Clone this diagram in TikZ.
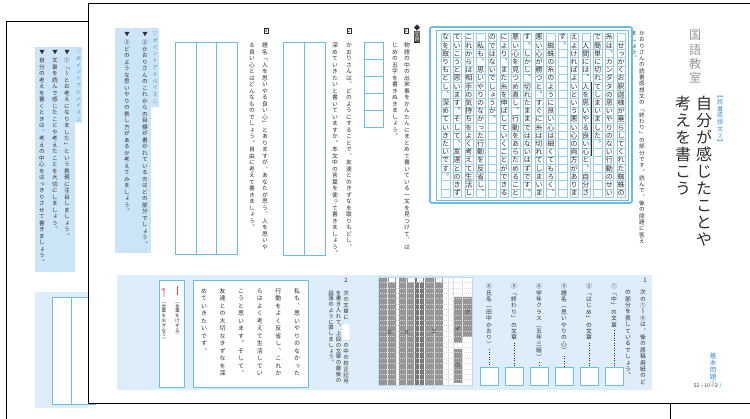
\documentclass[tikz,border=0pt]{standalone}
\usepackage{fontspec}
\usepackage{xcolor}
\usepackage{tikz}

\newfontfamily\jp[RawFeature=+vert]{Noto Sans CJK JP}
\newfontfamily\jph{Noto Sans CJK JP}

\definecolor{kblue}{RGB}{104,190,228}
\definecolor{kpanel}{RGB}{221,238,250}
\definecolor{kadv}{RGB}{203,229,247}
\definecolor{kgrid}{RGB}{150,205,232}
\definecolor{ktab}{RGB}{55,140,205}
\definecolor{ktext}{RGB}{45,45,45}
\definecolor{kgray}{RGB}{150,150,150}

% one column of vertical text, #1 = pitch
\newcommand\vcol[2][1em]{\vbox{\offinterlineskip\def\vpch{#1}\expandafter\vcolaux#2\relax}}
\def\vcolaux#1{\ifx\relax#1\else\vbox to \vpch{\vss\hbox to 1em{\hss\vrule height .88em depth .12em width 0pt\relax#1\hss}\vss}\expandafter\vcolaux\fi}

\begin{document}
\begin{tikzpicture}[x=1pt,y=-1pt,
  vt/.style={inner sep=0pt,anchor=north,text=ktext,font=\jp\fontsize{#1}{#1}\selectfont},
  page/.style={draw=black,line width=1pt,fill=white},
  ansbox/.style={draw=kblue,line width=0.7pt,fill=white},
  cell/.style={draw=kgrid,line width=0.3pt},
  numbox/.style={draw=ktext,line width=0.4pt,inner sep=0.7pt,anchor=north,text=ktext,font=\jph\fontsize{5.5}{5.5}\selectfont}]

\useasboundingbox (0,0) rectangle (750,419);
\fill[white] (0,0) rectangle (750,419);

\pgfmathsetmacro{\PX}{621}   % right column of the grid
\pgfmathsetmacro{\PW}{11.7}
\pgfmathsetmacro{\PH}{8.2}
\pgfmathsetmacro{\PY}{33}

% back page
\draw[page] (6,22) rectangle (670,440);
\fill[kadv] (35,47) rectangle (75,272);
\fill[kadv] (75,47) rectangle (82,123);
\draw (78.5,48) node (btab) [vt=5,text=ktab] {\vcol[6.8pt]{▽ポイントアドバイス△}};
\foreach \x/\itm [count=\i] in {67/①「〜とお考えになりました」という表現に注目しましょう。,
    55/文章を読んで感じたことや考えたことを大切にしましょう。,
    42/自分の考えを書くときは、考えの中心をはっきりさせて書きましょう。}
{
  \draw (\x,49) node (bmark\i) [vt=5.5] {\vcol[6.6pt]{▼}};
  \draw (\x,57) node (badv\i) [vt=5.6] {\vcol[6.5pt]{\itm}};
}
\fill[kpanel] (35,292) rectangle (88,408);
\draw[ansbox] (52,297) rectangle (95,404);
\draw[kblue,line width=0.5pt] (71,297) -- (71,404);

% front page
\draw[page] (88,4) rectangle (760,404);

% title
\draw (695,28) node (kokugo) [vt=12,text=kgray] {\vcol[14.2pt]{国語教室}};
\draw (720,92) node (tag) [vt=6,text=ktab] {\vcol[6.7pt]{【読書感想文②】}};
\draw (704,95) node (title1) [vt=16] {\vcol[17pt]{自分が感じたことや}};
\draw (683,95) node (title2) [vt=16] {\vcol[17pt]{考えを書こう}};
\draw (642,30) node (lead1) [vt=5.6] {\vcol[6.3pt]{かおりさんの読書感想文の「終わり」の部分です。読んで、後の問題に答え}};
\draw (634,30) node (lead2) [vt=5.6] {\vcol[6.3pt]{ましょう。}};

% reading box
\draw[kblue,line width=1.8pt,rounded corners=2pt] (430,27) rectangle (632,203);
\draw[kblue,line width=0.4pt] (436,30) rectangle (628,200);
\foreach \i in {0,...,15}{
  \draw[cell] ({\PX-\PW*\i-4.2},\PY) rectangle ({\PX-\PW*\i+4.2},{\PY+20*\PH});
  \foreach \j in {1,...,19} \draw[cell] ({\PX-\PW*\i-4.2},{\PY+\PH*\j}) -- ++(8.4,0);
}
\foreach \itm [count=\i from 0] in {　せっかくお釈迦様が垂らしてくれた蜘蛛の,
    糸は、カンダタの思いやりのない行動のせい,
    で簡単に切れてしまいました。,
    　人間には、人を思いやる良い心と、自分さ,
    えよければよいという悪い心の両方がありま,
    す。,
    　蜘蛛の糸のように良い心は細くてもろく、,
    悪い心が勝つと、すぐに糸は切れてしまいま,
    す。しかし、切れたままではないはずです。,
    悪い心を見つめ直し、行動をあらためること,
    により、また糸を伸ばしていくことができる,
    のではないでしょうか。,
    　私も、思いやりのなかった行動を反省し、,
    これからは相手の気持ちをよく考えて生活し,
    ていこうと思います。そして、友達とのきず,
    なを取りもどし、深めていきたいです。}
  \draw ({\PX-\PW*\i},\PY) node (row\i) [vt=7] {\vcol[8.2pt]{\itm}};
\draw[ktext,line width=0.6pt] ({\PX-\PW*3+5.6},{\PY+6*\PH}) -- ({\PX-\PW*3+5.6},{\PY+15*\PH});

% questions
\draw (417,25) node (diam) [vt=6.5] {\vcol[6pt]{◆}};
\draw (417,31) node (mondai) [vt=5.5,fill=ktext,text=white] {\vcol[5.8pt]{問題}};

\draw (406,28) node (n1) [numbox] {1};
\draw (407,42) node (q1a) [vt=5.8] {\vcol[6.5pt]{物語の中の出来事をかんたんにまとめて書いている一文を見つけて、は}};
\draw (395,42) node (q1b) [vt=5.8] {\vcol[6.5pt]{じめの五字を書きぬきましょう。}};
\foreach \j in {0,...,4} \draw[ansbox] (364,{42+17*\j}) rectangle ++(19,17);

\draw (349,28) node (n2) [numbox] {2};
\draw (349,42) node (q2a) [vt=5.8] {\vcol[6.5pt]{かおりさんは、どのようにすることで、友達とのきずなを取りもどし、}};
\draw (335,42) node (q2b) [vt=5.8] {\vcol[6.5pt]{深めていきたいと書いていますか。本文中の言葉を使って書きましょう。}};
\draw[ansbox] (283,42) rectangle (325,255);
\draw[kblue,line width=0.5pt] (304,42) -- (304,255);

\draw (266,28) node (n3) [numbox] {3};
\draw (265,42) node (q3a) [vt=5.8] {\vcol[6.5pt]{題名「人を思いやる良い心」とありますが、あなたが思う、人を思いや}};
\draw (252,42) node (q3b) [vt=5.8] {\vcol[6.5pt]{る良い心とはどんなものでしょう。自由に考えて書きましょう。}};
\draw[ansbox] (175,42) rectangle (237,254);
\draw[kblue,line width=0.5pt] (196,42) -- (196,254) (216,42) -- (216,254);

% point advice
\fill[kadv] (115,28) rectangle (151,253);
\fill[kadv] (151,28) rectangle (159,107);
\draw (155,30) node (ftab) [vt=5,text=ktab] {\vcol[6.8pt]{▽ポイントアドバイス△}};
\foreach \x/\itm [count=\i] in {145/②かおりさんのこれからの目標が書かれているのはどの部分でしょう。,
    127/③どのような思いやりの表し方があるか考えてみましょう。}
{
  \draw (\x,31) node (fmark\i) [vt=5.5] {\vcol[6.6pt]{▼}};
  \draw (\x,39) node (fadv\i) [vt=5.6] {\vcol[6.5pt]{\itm}};
}

% bottom panel
\fill[kpanel] (117,275) rectangle (652,390);
\draw (645,278) node (b1) [vt=6,font=\jph\fontsize{6}{6}\selectfont] {1};
\draw (643,289) node (b1a) [vt=5.8] {\vcol[6.4pt]{次の①〜⑥は、後の原稿用紙のど}};
\draw (628,289) node (b1b) [vt=5.8] {\vcol[6.4pt]{の部分を表しているでしょう。}};
\foreach \itm [count=\i from 0] in {①「中」の文章,②「はじめ」の文章,③題名（思いやりの心）,
    ④学年クラス（五年三組）,⑤「終わり」の文章,⑥氏名（田中かおり）}
{
  \draw ({614-25*\i},283) node (it\i) [vt=5.8] {\vcol[6.4pt]{\itm}};
  \draw ({614-25*\i},376) node (ab\i) [ansbox,minimum size=18pt,inner sep=0pt] {};
  \draw[ktext,dotted,line width=0.5pt] ([yshift=-2pt]it\i.south) -- (ab\i.north);
}

% manuscript grid
\fill[white] (378,277) rectangle (472,385);
\fill[kgray] (378,277) rectangle (396,385) (399,277) rectangle (414,385)
  (425,277) rectangle (443,385) (453,297) rectangle (462,343)
  (453,349) rectangle (462,383) (463,297) rectangle (472,337);
\fill[kgray!80!black] (415,277) rectangle (424,385);
\fill[white] (389,277) rectangle (395,282) (408,277) rectangle (414,282)
  (417,277) rectangle (423,282) (436,277) rectangle (442,282);
\foreach \j in {1,...,19} \draw[white!70!gray,line width=0.3pt,dash pattern=on 1pt off 1pt] (378,{277+5.4*\j}) -- (472,{277+5.4*\j});
\foreach \x in {387,406,419.5,434,448,453,462.5} \draw[white!75!gray,line width=0.3pt] (\x,277) -- (\x,385);
\draw[kblue!50,line width=0.4pt] (378,277) rectangle (472,385);
\foreach \x/\y/\k [count=\i] in {389/332/カ,406.5/332/オ,434/332/エ,467.5/313/ア,457.5/329/イ,457.5/365/ウ}
  \draw (\x,\y) node (lab\i) [font=\jp\fontsize{5.5}{5.5}\selectfont,inner sep=0pt,text=ktext] {\k};

% question 2
\draw (346,278) node (b2) [vt=6,font=\jph\fontsize{6}{6}\selectfont] {2};
\draw (346,290) node (b2a) [vt=5.5] {\vcol[6pt]{次の文章に}};
\draw (346,332) node (blank) [fill=white,draw=kblue!60,line width=0.4pt,rounded corners=1pt,minimum width=8pt,minimum height=17pt,inner sep=0pt] {};
\draw (346,342) node (b2b) [vt=5.5] {\vcol[6pt]{の中の校正記号}};
\draw (338.5,290) node (b2c) [vt=5.5] {\vcol[5.8pt]{を書き入れて、上段の文章の最後の}};
\draw (331,290) node (b2d) [vt=5.5] {\vcol[5.8pt]{段落のように直しましょう。}};

% corrected text
\draw[ansbox] (193,280) rectangle (308,387);
\foreach \itm [count=\i from 0] in {私も、思いやりのなかった,行動をよく反省し、これか,
    らはよく考えて生活してい,こうと思います。そして、,友達との大切なきずなを深,めていきたいです。}
  \draw ({297-18.6*\i},287) node (pr\i) [vt=6] {\vcol[7.5pt]{\itm}};

% marks
\draw[ansbox] (159,280) rectangle (184,387);
\draw[red!75,line width=0.7pt] (177.5,286) -- (177.5,295);
\draw[red!75,line width=0.7pt] (164,288) -- (164,297) (164,288) -- (162,290.5);
\draw (177.5,299) node (mk1) [vt=4.6] {\vcol[4.8pt]{（言葉をけずる）}};
\draw (164,299) node (mk2) [vt=4.6] {\vcol[4.8pt]{（言葉をおぎなう）}};

% page footer
\draw (713,352) node (kihon) [vt=6.5,text=ktab] {\vcol[7pt]{基本問題①}};
\draw (723,386) node (pgno) [anchor=east,inner sep=0pt,text=ktext,font=\jph\fontsize{5}{5}\selectfont] {52 − 10 − 2\textcolor{ktab}{①}};
\end{tikzpicture}
\end{document}
